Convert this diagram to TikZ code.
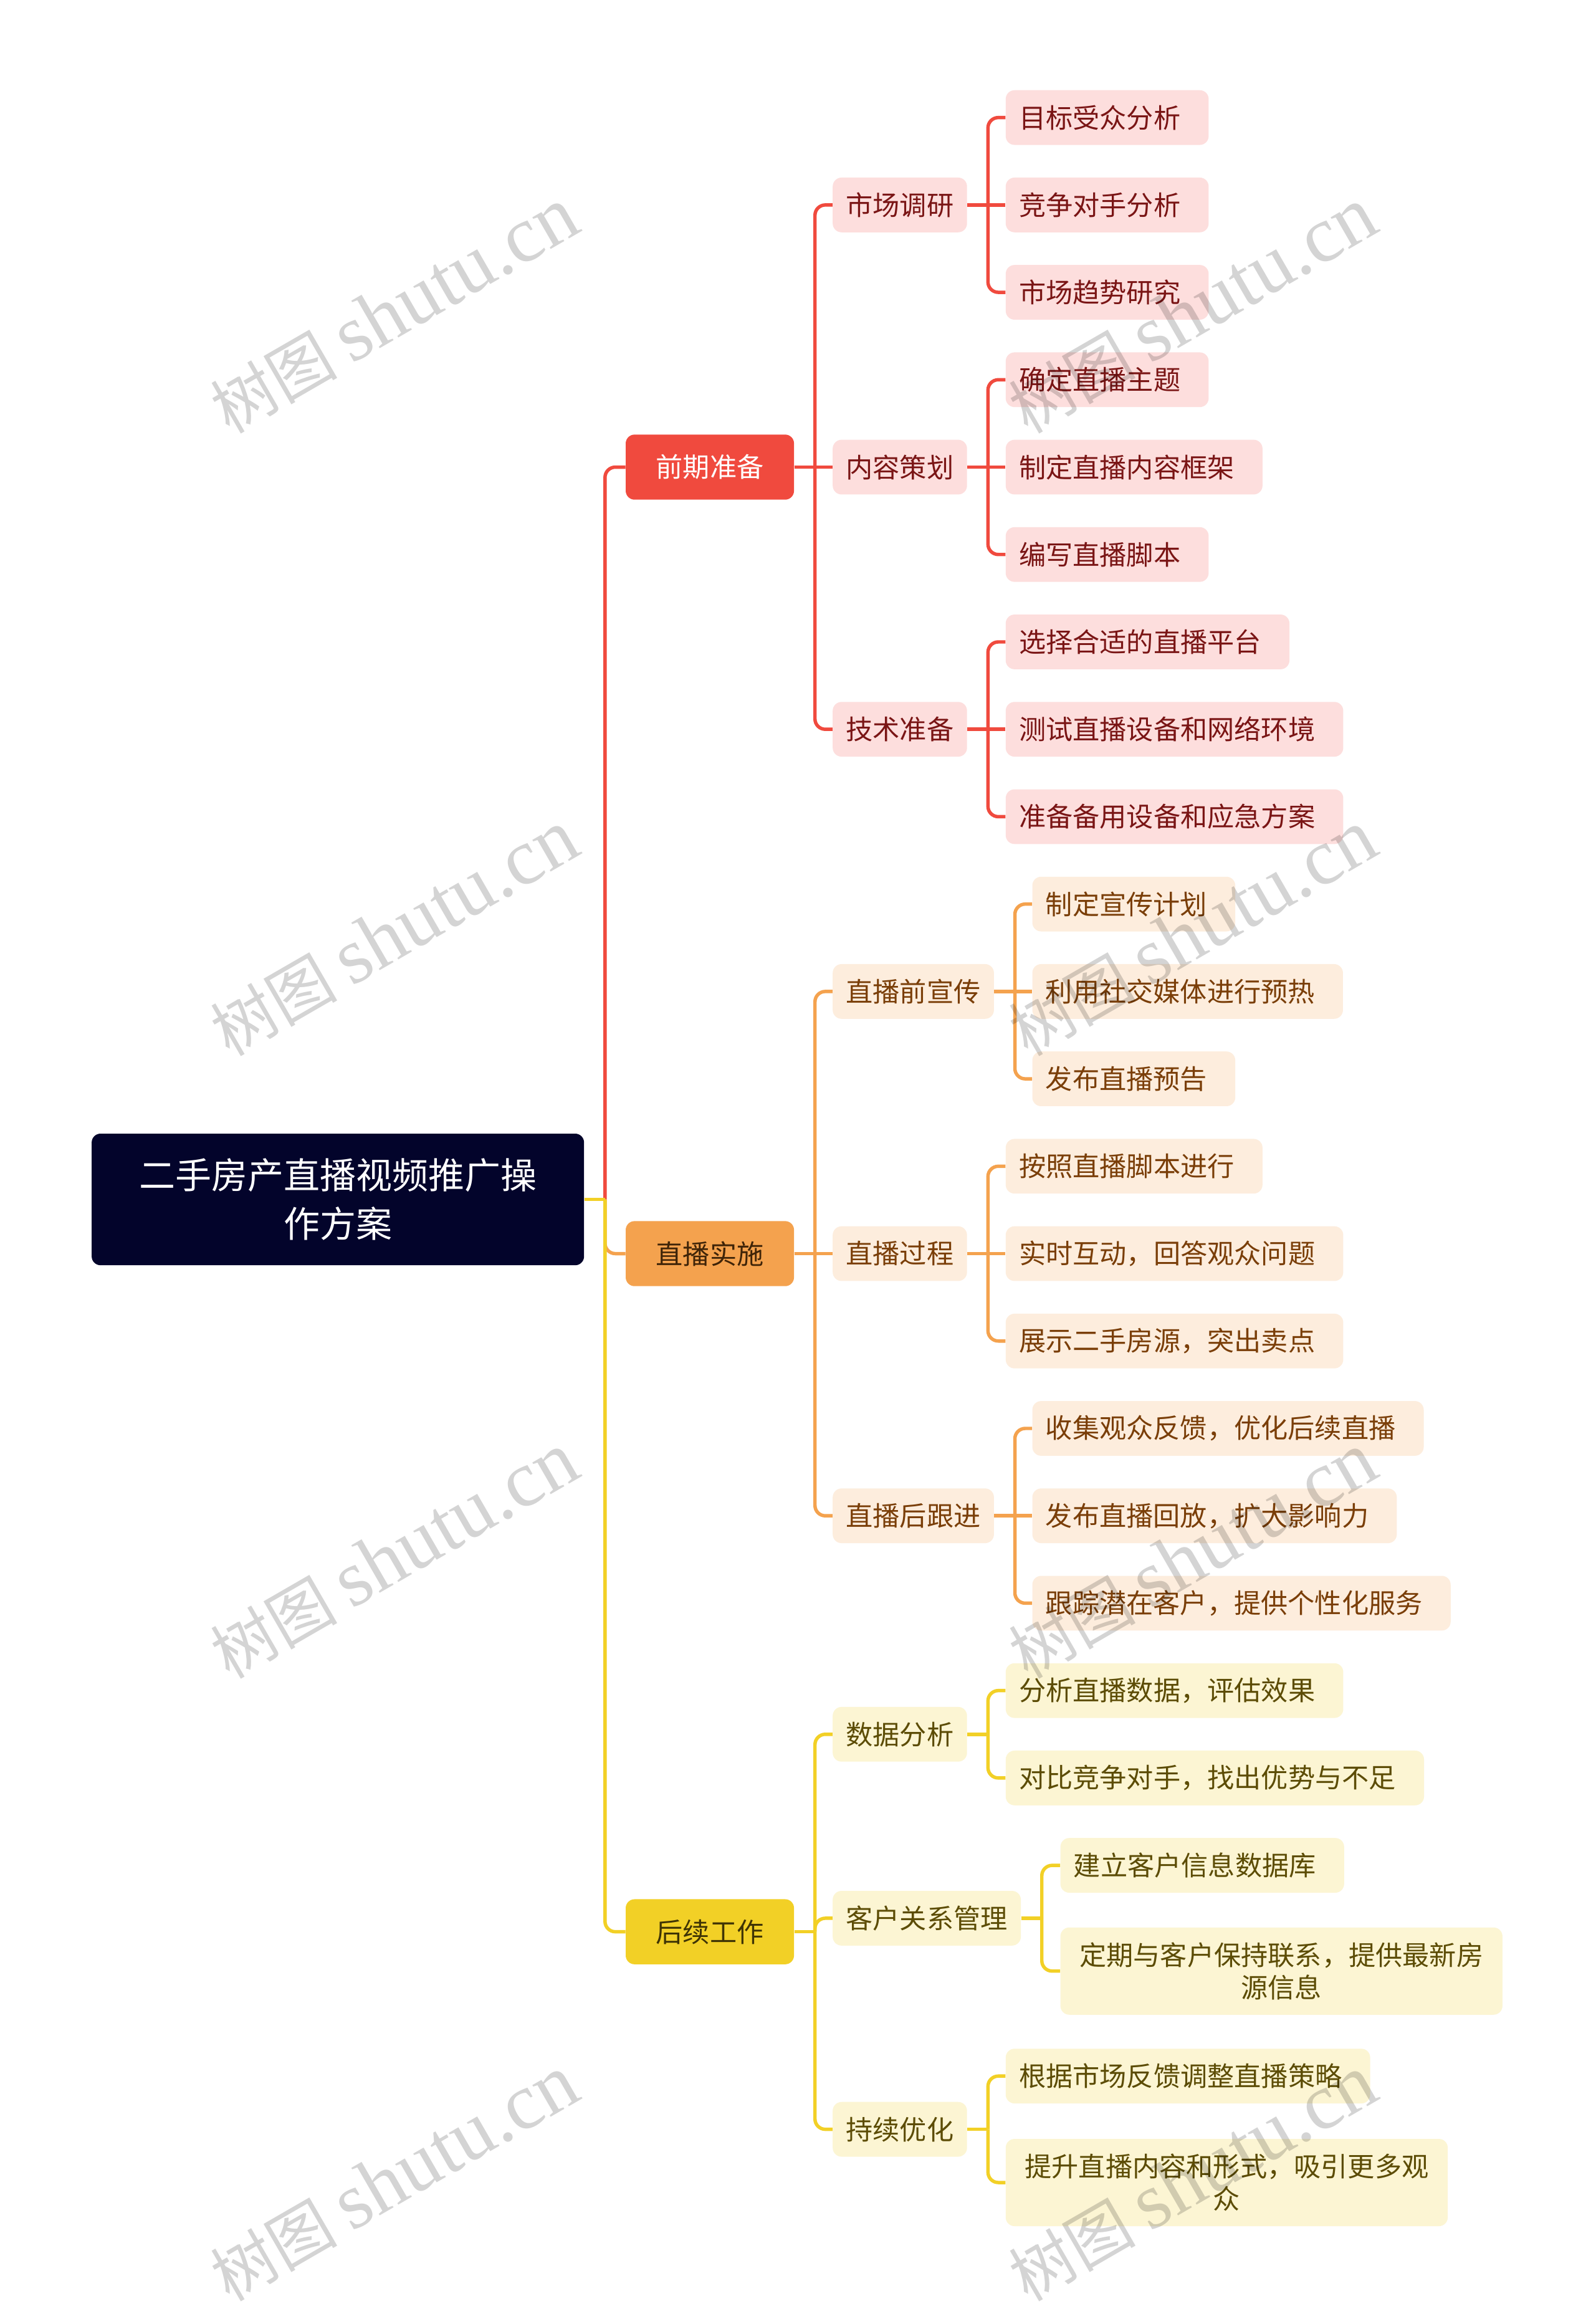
\documentclass[tikz,border=0pt]{standalone}
\usepackage{fontspec}
\setmainfont{Noto Sans CJK SC}
\newfontfamily\wmlatin{Liberation Serif}
\usetikzlibrary{calc}
\newlength\U
\setlength\U{1.1863pt}
\definecolor{rootc}{HTML}{03042B}
\definecolor{redc}{HTML}{F04A3E}
\definecolor{redl}{HTML}{FDDEDD}
\definecolor{redt}{HTML}{7A1515}
\definecolor{orac}{HTML}{F4A24E}
\definecolor{oral}{HTML}{FDEDDD}
\definecolor{orat}{HTML}{7A3E08}
\definecolor{oratd}{HTML}{3F2408}
\definecolor{yelc}{HTML}{F2D026}
\definecolor{yell}{HTML}{FCF5D3}
\definecolor{yelt}{HTML}{5C4C05}
\definecolor{yeltd}{HTML}{3F3405}
\newcommand\stemb[2]{\draw[conn,#1] (#2.east) -- ++(14,0);}
\newcommand\brab[3]{\draw[conn,#1] ($(#2.east)+(14,0)$) |- (#3.west);}
\newcommand\midb[3]{\draw[conn,#1] (#2.east) -- (#3.west);}
\newcommand\padb[1]{#1\hspace*{10\U}}
\newcommand\wmtext{{\fontsize{51pt}{51pt}\selectfont 树图\hspace*{11pt}}{\wmlatin\fontsize{64pt}{64pt}\selectfont shutu.cn}}
\begin{document}
\begin{tikzpicture}[x=\U, y=-\U,
  base/.style={rounded corners=6\U, inner ysep=0pt, font=\fontsize{21.6pt}{26pt}\selectfont},
  root/.style={fill=rootc, text=white, minimum width=333\U, minimum height=89\U, align=center,
    rounded corners=6\U, font=\fontsize{29pt}{39pt}\selectfont},
  lone/.style={base, anchor=west, minimum height=44\U, inner xsep=20.5\U},
  ltwo/.style={base, anchor=west, minimum height=37\U, inner xsep=9\U},
  lthree/.style={base, anchor=west, minimum height=37\U, inner xsep=9\U},
  lmulti/.style={base, anchor=west, minimum height=59\U, inner xsep=12.5\U, text width=325pt, align=center},
  rA/.style={fill=redc, text=white},
  rB/.style={fill=redl, text=redt},
  oA/.style={fill=orac, text=oratd},
  oB/.style={fill=oral, text=orat},
  yA/.style={fill=yelc, text=yeltd},
  yB/.style={fill=yell, text=yelt},
  conn/.style={line width=2.3\U, rounded corners=7\U},
  wm/.style={anchor=base, rotate=30, text=black, text opacity=0.17}
]
\useasboundingbox (0,0) rectangle (1079,1568.3);
\fill[white] (0,0) rectangle (1079,1568.3);

% root
\node[root] (root) at (228.5,811.15) {二手房产直播视频推广操\\作方案};

% level 1
\node[lone, rA] (a1) at (423,315.9) {前期准备};
\node[lone, oA] (a2) at (423,847.8) {直播实施};
\node[lone, yA] (a3) at (423,1306.4) {后续工作};

% level 2
\node[ltwo, rB] (b11) at (563,138.6) {市场调研};
\node[ltwo, rB] (b12) at (563,315.9) {内容策划};
\node[ltwo, rB] (b13) at (563,493.2) {技术准备};
\node[ltwo, oB] (b21) at (563,670.5) {直播前宣传};
\node[ltwo, oB] (b22) at (563,847.8) {直播过程};
\node[ltwo, oB] (b23) at (563,1025.1) {直播后跟进};
\node[ltwo, yB] (b31) at (563,1172.85) {数据分析};
\node[ltwo, yB] (b32) at (563,1297.25) {客户关系管理};
\node[ltwo, yB] (b33) at (563,1440) {持续优化};

% level 3
\node[lthree, rB] (c111) at (680,79.5) {\padb{目标受众分析}};
\node[lthree, rB] (c112) at (680,138.6) {\padb{竞争对手分析}};
\node[lthree, rB] (c113) at (680,197.7) {\padb{市场趋势研究}};
\node[lthree, rB] (c121) at (680,256.8) {\padb{确定直播主题}};
\node[lthree, rB] (c122) at (680,315.9) {\padb{制定直播内容框架}};
\node[lthree, rB] (c123) at (680,375) {\padb{编写直播脚本}};
\node[lthree, rB] (c131) at (680,434.1) {\padb{选择合适的直播平台}};
\node[lthree, rB] (c132) at (680,493.2) {\padb{测试直播设备和网络环境}};
\node[lthree, rB] (c133) at (680,552.3) {\padb{准备备用设备和应急方案}};
\node[lthree, oB] (c211) at (698,611.4) {\padb{制定宣传计划}};
\node[lthree, oB] (c212) at (698,670.5) {\padb{利用社交媒体进行预热}};
\node[lthree, oB] (c213) at (698,729.6) {\padb{发布直播预告}};
\node[lthree, oB] (c221) at (680,788.7) {\padb{按照直播脚本进行}};
\node[lthree, oB] (c222) at (680,847.8) {\padb{实时互动，回答观众问题}};
\node[lthree, oB] (c223) at (680,906.9) {\padb{展示二手房源，突出卖点}};
\node[lthree, oB] (c231) at (698,966) {\padb{收集观众反馈，优化后续直播}};
\node[lthree, oB] (c232) at (698,1025.1) {\padb{发布直播回放，扩大影响力}};
\node[lthree, oB] (c233) at (698,1084.2) {\padb{跟踪潜在客户，提供个性化服务}};
\node[lthree, yB] (c311) at (680,1143.3) {\padb{分析直播数据，评估效果}};
\node[lthree, yB] (c312) at (680,1202.4) {\padb{对比竞争对手，找出优势与不足}};
\node[lthree, yB] (c321) at (717,1261.5) {\padb{建立客户信息数据库}};
\node[lmulti, yB] (c322) at (717,1333) {定期与客户保持联系，提供最新房\\源信息};
\node[lthree, yB] (c331) at (680,1404) {\padb{根据市场反馈调整直播策略}};
\node[lmulti, yB] (c332) at (680,1476) {提升直播内容和形式，吸引更多观\\众};

% connectors: root -> level 1
\brab{redc}{root}{a1}
\brab{orac}{root}{a2}
\brab{yelc}{root}{a3}
\stemb{yelc}{root}

% red branch
\stemb{redc}{a1}
\brab{redc}{a1}{b11}
\midb{redc}{a1}{b12}
\brab{redc}{a1}{b13}
\stemb{redc}{b11}
\brab{redc}{b11}{c111}
\midb{redc}{b11}{c112}
\brab{redc}{b11}{c113}
\stemb{redc}{b12}
\brab{redc}{b12}{c121}
\midb{redc}{b12}{c122}
\brab{redc}{b12}{c123}
\stemb{redc}{b13}
\brab{redc}{b13}{c131}
\midb{redc}{b13}{c132}
\brab{redc}{b13}{c133}

% orange branch
\stemb{orac}{a2}
\brab{orac}{a2}{b21}
\midb{orac}{a2}{b22}
\brab{orac}{a2}{b23}
\stemb{orac}{b21}
\brab{orac}{b21}{c211}
\midb{orac}{b21}{c212}
\brab{orac}{b21}{c213}
\stemb{orac}{b22}
\brab{orac}{b22}{c221}
\midb{orac}{b22}{c222}
\brab{orac}{b22}{c223}
\stemb{orac}{b23}
\brab{orac}{b23}{c231}
\midb{orac}{b23}{c232}
\brab{orac}{b23}{c233}

% yellow branch
\stemb{yelc}{a3}
\brab{yelc}{a3}{b31}
\brab{yelc}{a3}{b32}
\brab{yelc}{a3}{b33}
\stemb{yelc}{b31}
\brab{yelc}{b31}{c311}
\brab{yelc}{b31}{c312}
\stemb{yelc}{b32}
\brab{yelc}{b32}{c321}
\brab{yelc}{b32}{c322}
\stemb{yelc}{b33}
\brab{yelc}{b33}{c331}
\brab{yelc}{b33}{c332}

% watermark
\foreach \yy [count=\i] in {225,646,1067,1488} {
  \node[wm] (wl\i) at (275,\yy) {\wmtext};
  \node[wm] (wr\i) at (815,\yy) {\wmtext};
}
\end{tikzpicture}
\end{document}
